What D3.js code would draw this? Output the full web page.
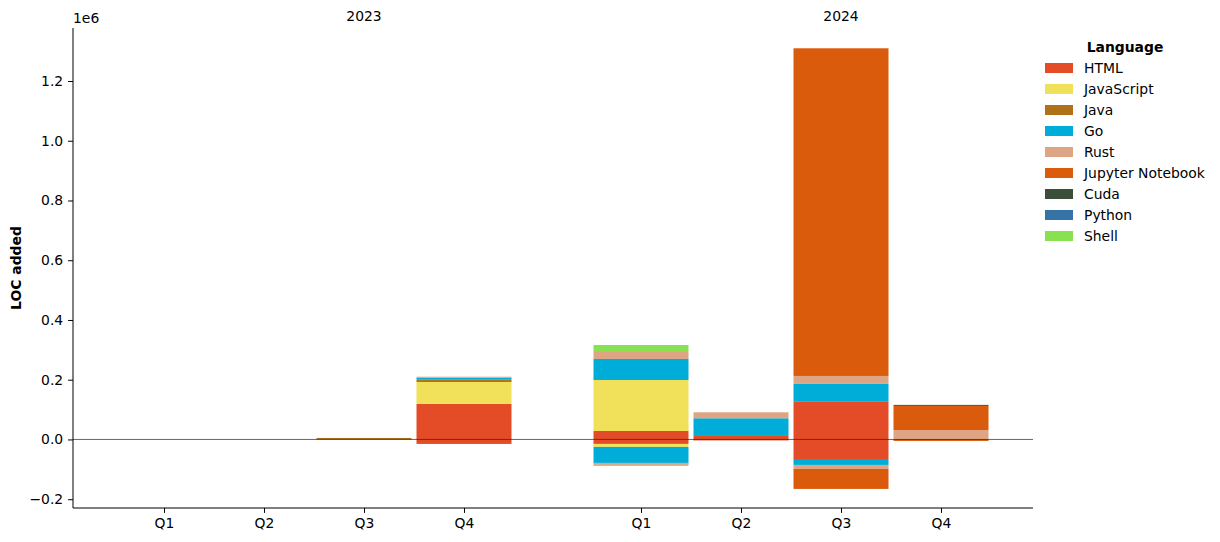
<!DOCTYPE html>
<html>
<head>
<meta charset="utf-8">
<script src="https://cdn.jsdelivr.net/npm/d3@7"></script>
<style>
  html, body { margin: 0; padding: 0; background: #fff; }
  svg { display: block; font-family: "DejaVu Sans", sans-serif; }
</style>
</head>
<body>
<svg id="chart" width="1220" height="542"></svg>
<script>
// ---------------- DATA ----------------
const years = ["2023", "2024"];
const quarters = ["Q1", "Q2", "Q3", "Q4"];
const languages = ["HTML", "JavaScript", "Java", "Go", "Rust", "Jupyter Notebook", "Cuda", "Python", "Shell"];
const colors = ["#e34c26", "#f1e05a", "#b07219", "#00add8", "#dea584", "#da5b0b", "#3a4e3a", "#3572a5", "#89e051"];

// LOC added per period (rows: 2023 Q1..Q4, 2024 Q1..Q4; columns follow `languages`)
const added = [
  [0, 0, 0, 0, 0, 0, 0, 0, 0],
  [0, 0, 0, 0, 0, 0, 0, 0, 0],
  [0, 0, 5000, 0, 0, 0, 0, 0, 0],
  [118800, 73600, 9000, 5400, 3300, 0, 0, 0, 0],
  [28400, 170700, 0, 70300, 23400, 0, 0, 0, 23400],
  [11700, 0, 0, 59200, 20100, 0, 0, 0, 0],
  [127900, 0, 0, 57900, 26800, 1097000, 0, 0, 0],
  [0, 0, 0, 0, 31100, 81300, 3300, 0, 0]
];
// LOC removed per period (negative values)
const removed = [
  [0, 0, 0, 0, 0, 0, 0, 0, 0],
  [0, 0, 0, 0, 0, 0, 0, 0, 0],
  [0, 0, 0, 0, 0, 0, 0, 0, 0],
  [-15000, 0, 0, 0, 0, 0, 0, 0, 0],
  [-15000, -10000, 0, -53600, -6700, 0, 0, 0, -3300],
  [-2500, 0, 0, 0, -2300, 0, 0, 0, 0],
  [-68600, 0, 0, -16700, -13400, -66900, 0, 0, 0],
  [0, 0, 0, 0, 0, -5000, 0, 0, 0]
];
const yTicks = [-0.2e6, 0, 0.2e6, 0.4e6, 0.6e6, 0.8e6, 1.0e6, 1.2e6];

// ---------------- LAYOUT ----------------
const svg = d3.select("#chart");
const plot = { left: 73, right: 1033, top: 28, bottom: 508 };
const groupGap = 0.77;
const barWidth = 0.95;
const FS = 13.9;

const periods = [];
years.forEach((y, g) => quarters.forEach((q, i) => {
  periods.push({ year: y, quarter: q, pos: g * (quarters.length + groupGap) + i, idx: periods.length });
}));

const x = d3.scaleLinear().domain([-0.91, 8.69]).range([plot.left, plot.right]);
const y = d3.scaleLinear().domain([-0.2295e6, 1.3775e6]).range([plot.bottom, plot.top]);

// stacked segments
const segs = [];
periods.forEach(p => {
  let pos = 0, neg = 0;
  languages.forEach((lang, li) => {
    const a = added[p.idx][li];
    if (a > 0) { segs.push({ p, li, y0: pos, y1: pos + a }); pos += a; }
  });
  languages.forEach((lang, li) => {
    const r = removed[p.idx][li];
    if (r < 0) { segs.push({ p, li, y0: neg + r, y1: neg }); neg += r; }
  });
});

svg.append("g").selectAll("rect").data(segs).join("rect")
  .attr("x", d => x(d.p.pos - barWidth / 2))
  .attr("width", d => x(d.p.pos + barWidth / 2) - x(d.p.pos - barWidth / 2))
  .attr("y", d => y(d.y1))
  .attr("height", d => Math.max(0, y(d.y0) - y(d.y1)))
  .attr("fill", d => colors[d.li]);

// zero line
svg.append("line")
  .attr("x1", plot.left).attr("x2", plot.right)
  .attr("y1", y(0)).attr("y2", y(0))
  .attr("stroke", "#000").attr("stroke-opacity", 0.75).attr("stroke-width", 0.8);

// y axis
const fmt = v => { const s = (v / 1e6).toFixed(1); return s.replace("-", "\u2212"); };
const yAxis = d3.axisLeft(y).tickValues(yTicks).tickFormat(fmt).tickSize(4.9).tickPadding(4.9);
const gy = svg.append("g").attr("transform", `translate(${plot.left},0)`).call(yAxis);
gy.select(".domain").attr("d", `M0,${plot.top}V${plot.bottom}`).attr("stroke", "#000").attr("stroke-width", 1);
gy.selectAll(".tick line").attr("stroke", "#000");
gy.selectAll("text").attr("font-size", FS).attr("fill", "#000").attr("font-family", "DejaVu Sans");

// x axis
const xAxis = d3.axisBottom(x).tickValues(periods.map(p => p.pos))
  .tickFormat((d, i) => periods[i].quarter).tickSize(4.9).tickPadding(4.9);
const gx = svg.append("g").attr("transform", `translate(0,${plot.bottom})`).call(xAxis);
gx.select(".domain").attr("d", `M${plot.left},0H${plot.right}`).attr("stroke", "#000").attr("stroke-width", 1);
gx.selectAll(".tick line").attr("stroke", "#000");
gx.selectAll("text").attr("font-size", FS).attr("fill", "#000").attr("font-family", "DejaVu Sans");

// offset text
svg.append("text").attr("x", plot.left).attr("y", plot.top - 5)
  .attr("font-size", FS).text("1e6");

// year labels
years.forEach((yr, g) => {
  const p = periods[g * quarters.length + 2];
  svg.append("text").attr("x", x(p.pos)).attr("y", 21)
    .attr("text-anchor", "middle").attr("font-size", FS).text(yr);
});

// y label
svg.append("text")
  .attr("transform", `translate(21,${(plot.top + plot.bottom) / 2}) rotate(-90)`)
  .attr("text-anchor", "middle").attr("font-size", FS).attr("font-weight", "bold")
  .text("LOC added");

// legend
const lg = svg.append("g");
lg.append("text").attr("x", 1125).attr("y", 52).attr("text-anchor", "middle")
  .attr("font-size", FS).attr("font-weight", "bold").text("Language");
languages.forEach((lang, i) => {
  const cy = 68 + i * 21;
  lg.append("rect").attr("x", 1045).attr("y", cy - 5).attr("width", 28).attr("height", 10)
    .attr("fill", colors[i]);
  lg.append("text").attr("x", 1084).attr("y", cy + 5).attr("font-size", FS).text(lang);
});
</script>
</body>
</html>
